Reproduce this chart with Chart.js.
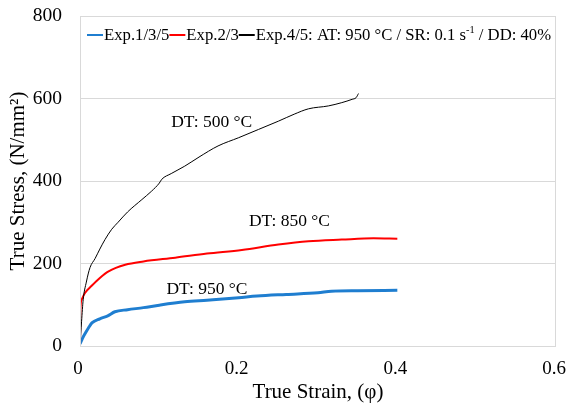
<!DOCTYPE html>
<html>
<head>
<meta charset="utf-8">
<script src="https://cdn.jsdelivr.net/npm/chart.js@4"></script>
<style>
  html, body { margin: 0; padding: 0; background: #fff; }
  #wrap { width: 566px; height: 408px; }
</style>
</head>
<body>
<div id="wrap"><canvas id="c" width="566" height="408"></canvas></div>
<script>
// ---- Data ----
const seriesNames = ["Exp.1/3/5", "Exp.2/3", "Exp.4/5: AT: 950 °C / SR: 0.1 s⁻¹ / DD: 40%"];
const seriesColors = ["#1f7ed0", "#ff0000", "#000000"];

const strainBlue = [0, 0.003, 0.007, 0.011, 0.015, 0.025, 0.035, 0.044, 0.06, 0.08, 0.1, 0.132, 0.16, 0.2, 0.223, 0.26, 0.3, 0.317, 0.35, 0.4];
const stressBlue = [5, 18, 32, 45, 56, 66, 73, 83, 88, 93, 99, 107, 111, 117, 121, 125, 129, 133, 134, 135];

const strainRed = [0, 0.0005, 0.002, 0.006, 0.0147, 0.025, 0.036, 0.057, 0.08, 0.12, 0.16, 0.204, 0.25, 0.288, 0.33, 0.37, 0.4];
const stressRed = [0, 90, 112, 128, 146, 165, 181, 197, 205, 214, 224, 233, 246, 254, 258, 261, 260];

const strainBlack = [0, 0.002, 0.004, 0.008, 0.0126, 0.019, 0.025, 0.0315, 0.04, 0.048, 0.06, 0.078, 0.09, 0.1, 0.103, 0.115, 0.132, 0.15, 0.174, 0.2, 0.225, 0.25, 0.27, 0.288, 0.313, 0.33, 0.343, 0.348, 0.351];
const stressBlack = [0, 60, 112, 155, 190, 212, 235, 258, 283, 300, 325, 355, 375, 395, 404, 418, 436, 458, 485, 505, 525, 545, 562, 575, 582, 590, 598, 602, 612];

const xTickLabels = ["0", "0.2", "0.4", "0.6"];
const yTickLabels = ["0", "200", "400", "600", "800"];

const annotations = [
  { text: "DT: 500 °C", x: 0.166, y: 542 },
  { text: "DT: 850 °C", x: 0.264, y: 301 },
  { text: "DT: 950 °C", x: 0.160, y: 138 }
];

const xTitle = "True Strain, (φ)";
const yTitle = "True Stress, (N/mm²)";

// ---- Helpers ----
function pts(xs, ys) { return xs.map((x, i) => ({ x: x, y: ys[i] })); }

const SERIF = "'Liberation Serif', 'Times New Roman', serif";

// draw text with "⁻¹" rendered as raised small text; returns width
function drawRich(ctx, text, x, y, size) {
  const parts = text.split("⁻¹");
  let cx = x;
  for (let i = 0; i < parts.length; i++) {
    ctx.font = size + "px " + SERIF;
    ctx.fillText(parts[i], cx, y);
    cx += ctx.measureText(parts[i]).width;
    if (i < parts.length - 1) {
      const s = size * 0.62;
      ctx.font = s + "px " + SERIF;
      ctx.fillText("-1", cx, y - size * 0.32);
      cx += ctx.measureText("-1").width;
    }
  }
  return cx - x;
}

const decorPlugin = {
  id: "decor",
  afterDatasetsDraw(chart) {
    const ctx = chart.ctx;
    const a = chart.chartArea;
    const xs = chart.scales.x, ys = chart.scales.y;
    ctx.save();
    // plot border
    ctx.strokeStyle = "#d9d9d9";
    ctx.lineWidth = 1;
    ctx.strokeRect(Math.round(a.left) + 0.5, Math.round(a.top) + 0.5, Math.round(a.right - a.left) - 1, Math.round(a.bottom - a.top));
    // annotations
    ctx.fillStyle = "#000";
    ctx.textAlign = "center";
    ctx.textBaseline = "middle";
    ctx.font = "17.5px " + SERIF;
    annotations.forEach(an => {
      ctx.fillText(an.text, xs.getPixelForValue(an.x), ys.getPixelForValue(an.y));
    });
    // legend inside plot
    ctx.textAlign = "left";
    ctx.textBaseline = "middle";
    const size = 16.7;
    let lx = a.left + 7;
    const ly = a.top + 19;
    seriesNames.forEach((name, i) => {
      ctx.strokeStyle = seriesColors[i];
      ctx.lineWidth = 2;
      ctx.beginPath();
      ctx.moveTo(lx, ly);
      ctx.lineTo(lx + 16, ly);
      ctx.stroke();
      lx += 17;
      ctx.fillStyle = "#000";
      lx += drawRich(ctx, name, lx, ly + 1, size);
    });
    ctx.restore();
  }
};

const chart = new Chart(document.getElementById("c"), {
  type: "line",
  data: {
    datasets: [
      { label: seriesNames[0], data: pts(strainBlue, stressBlue), borderColor: seriesColors[0], borderWidth: 3, order: 2 },
      { label: seriesNames[1], data: pts(strainRed, stressRed), borderColor: seriesColors[1], borderWidth: 2, order: 1 },
      { label: seriesNames[2], data: pts(strainBlack, stressBlack), borderColor: seriesColors[2], borderWidth: 1, order: 0 }
    ]
  },
  options: {
    responsive: false,
    animation: false,
    devicePixelRatio: 1,
    elements: {
      point: { radius: 0 },
      line: { cubicInterpolationMode: "monotone", fill: false }
    },
    layout: { padding: { left: 0, right: 10, top: 16, bottom: 0 } },
    plugins: {
      legend: { display: false },
      tooltip: { enabled: false }
    },
    scales: {
      x: {
        type: "linear",
        min: 0, max: 0.6,
        ticks: {
          stepSize: 0.2,
          color: "#000",
          padding: 12,
          labelOffset: -2,
          maxRotation: 0,
          font: { family: SERIF, size: 19 },
          callback: (v) => xTickLabels[Math.round(v / 0.2)]
        },
        grid: { display: false, drawTicks: false },
        border: { display: false },
        title: {
          display: true, text: xTitle, color: "#000",
          font: { family: SERIF, size: 21 },
          padding: { top: 0, bottom: 3 }
        },
        afterFit(scale) { scale.height = 62; scale.paddingLeft = 0; scale.paddingRight = 0; }
      },
      y: {
        type: "linear",
        min: 0, max: 800,
        ticks: {
          stepSize: 200,
          color: "#000",
          padding: 18,
          font: { family: SERIF, size: 19.5 },
          callback: (v) => yTickLabels[Math.round(v / 200)]
        },
        grid: { color: "#d9d9d9", drawTicks: false, lineWidth: 1 },
        border: { display: false },
        title: {
          display: true, text: yTitle, color: "#000",
          font: { family: SERIF, size: 21 },
          padding: { top: 6, bottom: 0 }
        },
        afterFit(scale) { scale.width = 80; scale.paddingTop = 0; scale.paddingBottom = 0; }
      }
    }
  },
  plugins: [decorPlugin]
});
</script>
</body>
</html>
